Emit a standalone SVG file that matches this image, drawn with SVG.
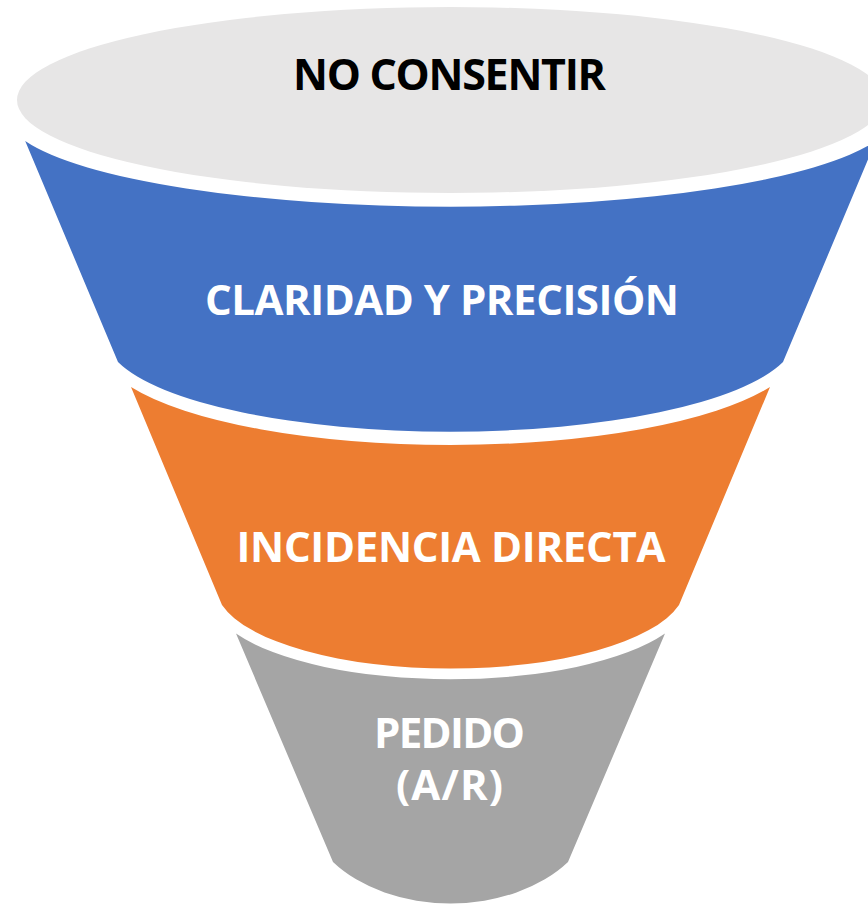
<svg xmlns="http://www.w3.org/2000/svg" width="868" height="905" viewBox="0 0 868 905">
  <style>
    .lbl { font-family: "Open Sans", "Liberation Sans", sans-serif; font-weight: bold; font-size: 42px; }
    .dark { fill: #000000; }
    .light { fill: #FFFFFF; }
    .top { fill: #E7E6E6; }
    .blue { fill: #4472C4; }
    .orange { fill: #ED7D31; }
    .gray { fill: #A5A5A5; }
  </style>
  <rect x="0" y="0" width="868" height="905" fill="#FFFFFF"/>
  <g id="connectors"></g>
  <g id="pedido">
    <path class="gray" d="M 236 633.5 L 333 862 A 145 100 0 0 0 568 862 L 665 633.5 A 240 83 0 0 1 236 633.5 Z"/>
    <text class="lbl light" x="449.5" y="748" text-anchor="middle" textLength="151" lengthAdjust="spacing">PEDIDO</text>
    <text class="lbl light" x="449.5" y="800" text-anchor="middle" textLength="107" lengthAdjust="spacing">(A/R)</text>
  </g>
  <g id="incidencia-directa">
    <path class="orange" d="M 131 387 L 222 605 A 235 83 0 0 0 679 605 L 770 387 A 350 98 0 0 1 131 387 Z"/>
    <text class="lbl light" x="451" y="561.5" text-anchor="middle" textLength="429" lengthAdjust="spacing">INCIDENCIA DIRECTA</text>
  </g>
  <g id="claridad-precision">
    <path class="blue" d="M 25.2 141 L 118 362 A 345 95 0 0 0 783 362 L 875.8 141 A 445 93 0 0 1 25.2 141 Z"/>
    <text class="lbl light" x="442" y="315" text-anchor="middle" textLength="474" lengthAdjust="spacing">CLARIDAD Y PRECISIÓN</text>
  </g>
  <g id="no-consentir">
    <ellipse class="top" cx="450.5" cy="100" rx="433.5" ry="93"/>
    <text class="lbl dark" x="449.5" y="90" text-anchor="middle" font-size="43" textLength="313" lengthAdjust="spacing" style="font-size:43px">NO CONSENTIR</text>
  </g>
</svg>
